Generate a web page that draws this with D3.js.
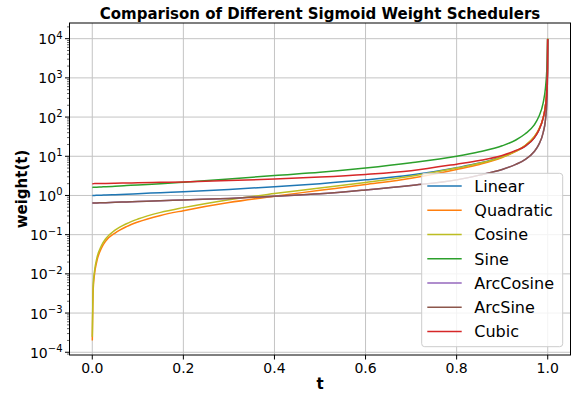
<!DOCTYPE html>
<html>
<head>
<meta charset="utf-8">
<script src="https://cdn.jsdelivr.net/npm/d3@7"></script>
<style>
  html, body { margin: 0; padding: 0; background: #ffffff; }
  svg { display: block; font-family: "DejaVu Sans", sans-serif; }
</style>
</head>
<body>
<svg id="chart" width="571" height="396"></svg>
<script>
// Sample positions along t
const tValues = [0.0001, 0.002, 0.005, 0.01, 0.02, 0.03, 0.05, 0.075, 0.1, 0.15, 0.2, 0.3, 0.4, 0.5,
  0.6, 0.7, 0.8, 0.85, 0.9, 0.93, 0.95, 0.97, 0.98, 0.99, 0.995, 0.998, 0.999, 0.9995, 0.9999];

// Scheduler weights at each t
const linear = [1.0, 1.0, 1.005, 1.01, 1.02, 1.03, 1.05, 1.08, 1.11, 1.18, 1.25, 1.43, 1.67, 2.0,
  2.5, 3.33, 5.1, 6.7, 9.8, 13.6, 17.8, 29, 45, 94, 190, 480, 960, 1920, 9800];
const quadratic = [0.0002, 0.004, 0.01, 0.021, 0.045, 0.07, 0.11, 0.16, 0.21, 0.31, 0.41, 0.66, 0.96, 1.35,
  1.9, 2.75, 4.6, 6.2, 9.3, 13.3, 18.5, 31, 47, 97, 195, 490, 990, 1990, 9990];
const cosine = [0.00025, 0.005, 0.012, 0.025, 0.052, 0.08, 0.13, 0.19, 0.25, 0.37, 0.49, 0.78, 1.12, 1.55,
  2.15, 3.1, 5.0, 6.6, 9.6, 13.5, 18.7, 31, 47, 97, 195, 490, 990, 1990, 9990];
const sine = [1.6, 1.61, 1.62, 1.63, 1.65, 1.67, 1.72, 1.79, 1.86, 2.0, 2.18, 2.62, 3.23, 3.9,
  5.0, 6.8, 10, 13, 18.5, 26, 37, 62, 100, 230, 550, 1600, 3200, 5500, 10000];
const arcCosine = [0.64, 0.64, 0.64, 0.645, 0.65, 0.655, 0.67, 0.685, 0.70, 0.73, 0.77, 0.84, 0.96, 1.1,
  1.38, 1.8, 2.5, 3.3, 4.6, 6.2, 8.2, 13, 19.5, 40, 85, 250, 600, 1400, 9500];
const arcSine = [0.64, 0.64, 0.64, 0.645, 0.65, 0.655, 0.67, 0.685, 0.70, 0.73, 0.77, 0.84, 0.96, 1.1,
  1.38, 1.8, 2.5, 3.3, 4.6, 6.2, 8.2, 13, 19.5, 40, 85, 250, 600, 1400, 9500];
const cubic = [2.0, 2.0, 2.01, 2.01, 2.02, 2.03, 2.05, 2.08, 2.1, 2.16, 2.22, 2.42, 2.62, 2.95,
  3.45, 4.3, 6.3, 7.8, 10.5, 14, 18, 29, 45, 95, 190, 480, 950, 1900, 9800];

const seriesNames = ["Linear", "Quadratic", "Cosine", "Sine", "ArcCosine", "ArcSine", "Cubic"];
const seriesValues = [linear, quadratic, cosine, sine, arcCosine, arcSine, cubic];
const seriesColors = ["#1f77b4", "#ff7f0e", "#bcbd22", "#2ca02c", "#9467bd", "#8c564b", "#d62728"];

const xTicks = [0.0, 0.2, 0.4, 0.6, 0.8, 1.0];
const yTickExponents = [-4, -3, -2, -1, 0, 1, 2, 3, 4];

const svg = d3.select("#chart");
const plot = { left: 69.5, right: 570.5, top: 23, bottom: 355 };

const x = d3.scaleLinear().domain([-0.05, 1.05]).range([plot.left, plot.right]);
const y = d3.scaleLog().domain([Math.pow(10, -4.07), Math.pow(10, 4.4)]).range([plot.bottom, plot.top]);

// Grid
const grid = svg.append("g");
grid.selectAll("line.gx").data(xTicks).join("line")
  .attr("x1", d => x(d)).attr("x2", d => x(d))
  .attr("y1", plot.top).attr("y2", plot.bottom)
  .attr("stroke", "#c4c4c4").attr("stroke-width", 1);
grid.selectAll("line.gy").data(yTickExponents).join("line")
  .attr("x1", plot.left).attr("x2", plot.right)
  .attr("y1", d => y(Math.pow(10, d))).attr("y2", d => y(Math.pow(10, d)))
  .attr("stroke", "#c4c4c4").attr("stroke-width", 1);

// Series
const line = d3.line()
  .x((d, i) => x(tValues[i]))
  .y(d => y(d))
  .curve(d3.curveMonotoneX);

const clip = svg.append("clipPath").attr("id", "plotclip").append("rect")
  .attr("x", plot.left).attr("y", plot.top)
  .attr("width", plot.right - plot.left).attr("height", plot.bottom - plot.top);

svg.append("g").attr("clip-path", "url(#plotclip)")
  .selectAll("path").data(seriesValues).join("path")
  .attr("d", d => line(d))
  .attr("fill", "none")
  .attr("stroke", (d, i) => seriesColors[i])
  .attr("stroke-width", 1.5)
  .attr("stroke-linejoin", "round");

// Frame
svg.append("rect")
  .attr("x", plot.left).attr("y", plot.top)
  .attr("width", plot.right - plot.left).attr("height", plot.bottom - plot.top)
  .attr("fill", "none").attr("stroke", "#000").attr("stroke-width", 1);

// X axis ticks and labels
const xAxis = svg.append("g");
xAxis.selectAll("line").data(xTicks).join("line")
  .attr("x1", d => x(d)).attr("x2", d => x(d))
  .attr("y1", plot.bottom).attr("y2", plot.bottom + 4.5)
  .attr("stroke", "#000").attr("stroke-width", 1);
xAxis.selectAll("text").data(xTicks).join("text")
  .attr("x", d => x(d)).attr("y", 372.5)
  .attr("text-anchor", "middle")
  .attr("font-size", "14px")
  .attr("fill", "#000")
  .text(d => d.toFixed(1));

// Y axis ticks (major and minor) and labels
const yAxis = svg.append("g");
const minorTicks = [];
for (let e = -5; e <= 4; e++) {
  for (let m = 2; m <= 9; m++) {
    const v = m * Math.pow(10, e);
    const py = y(v);
    if (py >= plot.top && py <= plot.bottom) minorTicks.push(v);
  }
}
yAxis.selectAll("line.minor").data(minorTicks).join("line")
  .attr("x1", plot.left - 2.5).attr("x2", plot.left)
  .attr("y1", d => y(d)).attr("y2", d => y(d))
  .attr("stroke", "#000").attr("stroke-width", 0.6);
yAxis.selectAll("line.major").data(yTickExponents).join("line")
  .attr("x1", plot.left - 4.5).attr("x2", plot.left)
  .attr("y1", d => y(Math.pow(10, d))).attr("y2", d => y(Math.pow(10, d)))
  .attr("stroke", "#000").attr("stroke-width", 1);
const yLabels = yAxis.selectAll("text").data(yTickExponents).join("text")
  .attr("x", 62.5).attr("y", d => y(Math.pow(10, d)) + 5.5)
  .attr("text-anchor", "end")
  .attr("font-size", "14px")
  .attr("fill", "#000");
yLabels.append("tspan").text("10");
yLabels.append("tspan")
  .attr("dy", "-5.5")
  .attr("font-size", "10px")
  .text(d => (d < 0 ? "\u2212" + Math.abs(d) : String(d)));

// Title and axis labels
svg.append("text")
  .attr("x", (plot.left + plot.right) / 2).attr("y", 19)
  .attr("text-anchor", "middle")
  .attr("font-size", "15px").attr("font-weight", "bold")
  .text("Comparison of Different Sigmoid Weight Schedulers");
svg.append("text")
  .attr("x", (plot.left + plot.right) / 2).attr("y", 389)
  .attr("text-anchor", "middle")
  .attr("font-size", "15px").attr("font-weight", "bold")
  .text("t");
svg.append("text")
  .attr("transform", `translate(27,${(plot.top + plot.bottom) / 2}) rotate(-90)`)
  .attr("text-anchor", "middle")
  .attr("font-size", "15px").attr("font-weight", "bold")
  .text("weight(t)");

// Legend
const legend = svg.append("g");
legend.append("rect")
  .attr("x", 421.7).attr("y", 173.3)
  .attr("width", 141).attr("height", 173.4)
  .attr("rx", 3).attr("ry", 3)
  .attr("fill", "#ffffff").attr("fill-opacity", 0.8)
  .attr("stroke", "#cccccc").attr("stroke-width", 1);
const rows = legend.selectAll("g.row").data(seriesNames).join("g")
  .attr("transform", (d, i) => `translate(0,${186 + i * 24.23})`);
rows.append("line")
  .attr("x1", 427.3).attr("x2", 461.7)
  .attr("y1", 0).attr("y2", 0)
  .attr("stroke", (d, i) => seriesColors[i]).attr("stroke-width", 1.5);
rows.append("text")
  .attr("x", 474.3).attr("y", 6)
  .attr("font-size", "16px").attr("fill", "#000")
  .text(d => d);
</script>
</body>
</html>
